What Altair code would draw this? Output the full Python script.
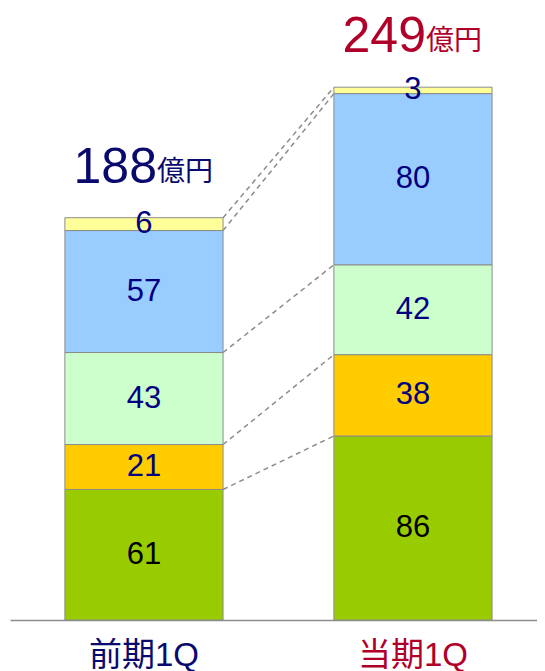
import altair as alt
import pandas as pd

periods = ["前期1Q", "当期1Q"]
period_colors = ["#0a0a6e", "#b0002a"]
segments = ["A", "B", "C", "D", "E"]
seg_colors = ["#99cc00", "#ffcc00", "#ccffcc", "#99ccff", "#ffff99"]
label_colors = ["#000000", "#000080", "#000080", "#000080", "#000080"]
values_prev = [61, 21, 43, 57, 6]
values_curr = [86, 38, 42, 80, 3]
totals = [188, 249]
unit = "億円"

HALF = 0.294
rows = []
for i, vals in enumerate([values_prev, values_curr]):
    cum = 0
    for j, v in enumerate(vals):
        rows.append(dict(idx=i, x0=i - HALF, x1=i + HALF, y0=cum, y1=cum + v,
                         mid=cum + v / 2, seg=segments[j], val=v, lc=label_colors[j]))
        cum += v
df = pd.DataFrame(rows)

conn = []
cp = 0
cc = 0
for j in range(len(segments)):
    cp += values_prev[j]
    cc += values_curr[j]
    conn.append(dict(line=j, x=0 + HALF, y=cp, o=0))
    conn.append(dict(line=j, x=1 - HALF, y=cc, o=1))
dconn = pd.DataFrame(conn)

dtot = pd.DataFrame(dict(idx=[0, 1], total=totals, name=periods, col=period_colors,
                         unit=[unit, unit]))

FONT = "Liberation Sans, Arial, Noto Sans CJK JP"
xs = alt.Scale(domain=[-0.498, 1.461], nice=False, zero=False)
ys = alt.Scale(domain=[0, 286], nice=False)

bars = alt.Chart(df).mark_rect(stroke="#8c8c8c", strokeWidth=1).encode(
    x=alt.X("x0:Q", scale=xs, axis=alt.Axis(labels=False, ticks=False, grid=False,
                                            title=None, domainColor="#8c8c8c",
                                            domainWidth=1.5)),
    x2="x1:Q",
    y=alt.Y("y0:Q", scale=ys, axis=None),
    y2="y1:Q",
    color=alt.Color("seg:N", scale=alt.Scale(domain=segments, range=seg_colors), legend=None),
)

seglabels = alt.Chart(df).mark_text(fontSize=31, font=FONT, baseline="middle").encode(
    x=alt.X("idx:Q", scale=xs),
    y=alt.Y("mid:Q", scale=ys),
    text="val:Q",
    color=alt.Color("lc:N", scale=None),
)

lines = alt.Chart(dconn).mark_line(color="#8c8c8c", strokeDash=[5, 4], strokeWidth=1.5).encode(
    x=alt.X("x:Q", scale=xs),
    y=alt.Y("y:Q", scale=ys),
    detail="line:N",
    order="o:Q",
)

totnum = alt.Chart(dtot).mark_text(fontSize=50, font=FONT, align="right",
                                   baseline="alphabetic", dx=13, dy=-35).encode(
    x=alt.X("idx:Q", scale=xs),
    y=alt.Y("total:Q", scale=ys),
    text="total:Q",
    color=alt.Color("col:N", scale=None),
)
totunit = alt.Chart(dtot).mark_text(fontSize=28, font=FONT, align="left",
                                    baseline="alphabetic", dx=13, dy=-37).encode(
    x=alt.X("idx:Q", scale=xs),
    y=alt.Y("total:Q", scale=ys),
    text="unit:N",
    color=alt.Color("col:N", scale=None),
)

dname = dtot.assign(base=0)
names = alt.Chart(dname).mark_text(fontSize=33, font=FONT, baseline="middle", dy=36).encode(
    x=alt.X("idx:Q", scale=xs),
    y=alt.Y("base:Q", scale=ys),
    text="name:N",
    color=alt.Color("col:N", scale=None),
)

chart = alt.layer(bars, lines, seglabels, totnum, totunit, names).properties(
    width=527, height=612,
    autosize=alt.AutoSizeParams(type="none"),
    padding={"left": 2, "top": 0, "right": 0, "bottom": 70},
).configure_view(stroke=None)

chart.save("out.html", embed_options={"renderer": "svg", "actions": False})
